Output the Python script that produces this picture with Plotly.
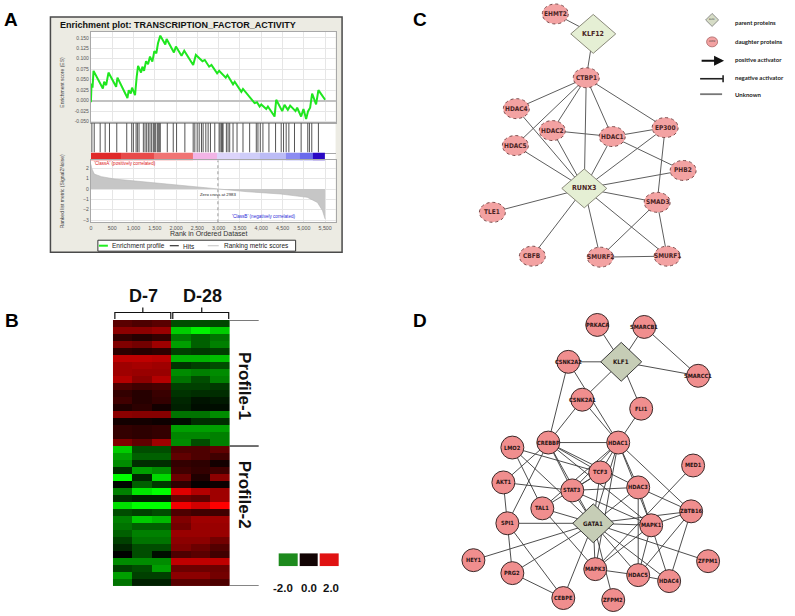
import plotly.graph_objects as go

W, H = 795, 616

# ---------------- Panel A data (GSEA enrichment plot) ----------------
es_rank = [0, 16, 39, 62, 281, 312, 359, 413, 593, 624, 827, 858, 889, 936, 967, 1037,
           1076, 1108, 1178, 1209, 1248, 1295, 1342, 1388, 1443, 1490, 1537, 1576, 1630,
           1747, 1778, 1950, 1997, 2129, 2192, 2402, 2465, 2621, 2675, 2777, 2831, 2964,
           3011, 3167, 3206, 3338, 3377, 3533, 3572, 3806, 3845, 3900, 3962, 4001, 4118,
           4157, 4313, 4352, 4493, 4547, 4625, 4680, 4805, 4844, 4937, 4992, 5054, 5101,
           5148, 5195, 5288, 5343, 5500]
es_score = [-0.004, 0.041, 0.031, 0.071, 0.029, 0.045, 0.037, 0.067, 0.033, 0.055, 0.013,
            0.006, 0.025, 0.017, 0.031, 0.013, 0.057, 0.083, 0.067, 0.081, 0.071, 0.094,
            0.087, 0.105, 0.093, 0.118, 0.113, 0.137, 0.155, 0.134, 0.147, 0.115, 0.129,
            0.107, 0.119, 0.085, 0.109, 0.094, 0.097, 0.081, 0.085, 0.065, 0.071, 0.055,
            0.061, 0.039, 0.045, 0.021, 0.028, -0.001, -0.006, -0.004, -0.014, -0.009,
            -0.020, -0.014, -0.038, 0.002, -0.025, -0.010, -0.022, -0.012, -0.025, -0.017,
            -0.038, -0.020, -0.044, -0.025, -0.017, 0.017, -0.009, 0.025, 0.002]
hit_rank = [23, 78, 218, 335, 437, 608, 842, 959, 998, 1061, 1092, 1131, 1232, 1271, 1310,
            1349, 1388, 1427, 1466, 1490, 1521, 1560, 1583, 1607, 1630, 1794, 1934, 2012,
            2207, 2402, 2441, 2496, 2543, 2597, 2636, 2699, 2753, 2808, 2909, 3011, 3034,
            3065, 3089, 3104, 3182, 3221, 3260, 3338, 3432, 3572, 3728, 3884, 3923, 3978,
            4040, 4181, 4337, 4469, 4524, 4586, 4649, 4781, 4937, 5093, 5132, 5187, 5343]
metric_rank = [0, 20, 80, 250, 560, 1340, 2120, 2900, 2983, 3680, 4460, 5080, 5320, 5440, 5500]
metric_value = [2.4, 2.0, 1.45, 1.2, 0.97, 0.65, 0.4, 0.06, 0.0, -0.26, -0.48, -0.8, -1.3, -2.1, -2.9]
zero_cross_rank = 2983
bar_edges = [0, 700, 1470, 2400, 2950, 3500, 3960, 4590, 4900, 5210, 5500]
bar_colors = ['#e02a2a', '#e84a4a', '#f07474', '#f2b4e6', '#dcd4fa', '#cfcdf9',
              '#bcbcf6', '#8c8cf2', '#6a6aec', '#2a08c4']
es_ticks = [-0.05, -0.025, 0.0, 0.025, 0.05, 0.075, 0.1, 0.125, 0.15]
es_tick_labels = ["-0.050", "-0.025", "0.000", "0.025", "0.050", "0.075", "0.100", "0.125", "0.150"]
rank_ticks = [0, 500, 1000, 1500, 2000, 2500, 3000, 3500, 4000, 4500, 5000, 5500]
rank_tick_labels = ["0", "500", "1,000", "1,500", "2,000", "2,500", "3,000", "3,500",
                    "4,000", "4,500", "5,000", "5,500"]
metric_ticks = [-3, -2, -1, 0, 1, 2]

# ---------------- Panel B data (heatmap) ----------------
day7_values = [
    [0.7, 0.6, 0.7], [1.1, 1.1, 1.2], [0.4, 0.3, 0.4], [1.0, 0.9, 1.25], [0.35, 0.3, 0.35],
    [1.5, 1.5, 1.45], [1.25, 1.3, 1.25], [1.25, 1.2, 1.2], [1.4, 1.1, 1.4], [0.6, 0.5, 0.55],
    [0.4, 0.3, 0.45], [0.5, 0.3, 0.4], [0.25, 0.35, 0.15], [1.1, 1.05, 1.05], [0.15, 0.15, 0.1],
    [0.4, 0.35, 0.4], [0.4, 0.35, 0.4], [1.0, 0.75, 1.25],
    [-1.6, -0.6, -0.6], [-1.25, -0.75, -0.75], [-1.1, -0.35, -0.35], [-0.35, -1.25, -1.1],
    [-2.0, -0.3, -1.7], [-0.05, -0.75, -0.45], [-1.0, -1.8, -2.0], [-0.35, -0.25, -0.25],
    [-1.75, -2.0, -2.0], [-0.6, -0.5, -0.6], [-1.0, -1.6, -1.45], [-0.9, -0.75, -0.75],
    [-0.75, -1.0, -1.0], [-0.5, -0.9, -0.9], [-0.3, -0.6, -0.6], [0.0, -0.6, -0.1],
    [-1.1, -1.1, -1.1], [-0.5, -0.6, -1.25], [-1.25, -0.5, -0.5], [-0.9, -0.25, -0.25]]
day28_values = [
    [-0.6, -0.6, -0.55], [-1.6, -1.9, -1.6], [-0.95, -0.75, -0.9], [-1.25, -0.75, -1.0],
    [-0.5, -0.45, -0.5], [-1.4, -1.4, -1.5], [-0.4, -0.5, -0.6], [-1.1, -1.0, -1.1],
    [-0.9, -0.6, -1.0], [-0.5, -0.5, -0.45], [-0.4, -0.35, -0.35], [-0.3, -0.15, -0.2],
    [-0.25, -0.1, -0.1], [-0.9, -0.9, -1.1], [-0.1, -0.35, -0.35], [-1.25, -1.25, -1.25],
    [-1.05, -1.05, -1.0], [-1.1, -0.6, -1.0],
    [0.6, 0.6, 0.75], [0.75, 0.6, 0.5], [0.4, 0.35, 0.15], [0.5, 0.4, 0.5], [0.85, 0.25, 1.1],
    [0.35, 0.05, 0.1], [1.75, 1.4, 1.25], [0.85, 0.75, 1.25], [1.9, 1.65, 2.0], [0.6, 0.5, 0.5],
    [1.0, 1.25, 1.25], [0.9, 1.2, 1.2], [1.2, 1.2, 1.2], [1.1, 1.1, 0.9], [1.0, 0.85, 0.65],
    [0.6, 0.7, 0.5], [1.5, 1.5, 1.5], [0.85, 0.85, 0.85], [1.1, 1.1, 0.9], [0.7, 0.7, 0.6]]
profile1_rows = 18
scale_ticks = [-2.0, 0.0, 2.0]
scale_labels = ["-2.0", "0.0", "2.0"]
scale_colors = ['#1d8a1d', '#120404', '#e01212']

# ---------------- Panel C data (network) ----------------
c_names = ["EHMT2", "KLF12", "CTBP1", "HDAC4", "HDAC2", "HDAC1", "EP300", "HDAC5", "PHB2",
           "RUNX3", "SMAD3", "TLE1", "CBFB", "SMURF2", "SMURF1"]
c_x = [555, 593, 586, 516, 552, 612, 665, 515, 683, 584, 657, 492, 532, 600, 667]
c_y = [14, 34, 78, 109, 131, 137, 128, 146, 171, 189, 203, 213, 257, 258, 257]
c_parents = ["KLF12", "RUNX3"]
c_edges = [("EHMT2", "KLF12"), ("KLF12", "CTBP1"), ("CTBP1", "HDAC4"), ("CTBP1", "HDAC2"),
           ("CTBP1", "HDAC1"), ("CTBP1", "EP300"), ("CTBP1", "HDAC5"), ("CTBP1", "RUNX3"),
           ("HDAC4", "RUNX3"), ("HDAC2", "HDAC1"), ("HDAC2", "RUNX3"), ("HDAC1", "EP300"),
           ("HDAC1", "PHB2"), ("HDAC1", "RUNX3"), ("HDAC5", "RUNX3"), ("EP300", "RUNX3"),
           ("EP300", "SMAD3"), ("PHB2", "RUNX3"), ("RUNX3", "SMAD3"), ("RUNX3", "TLE1"),
           ("RUNX3", "CBFB"), ("RUNX3", "SMURF2"), ("RUNX3", "SMURF1"), ("SMAD3", "SMURF2"),
           ("SMAD3", "SMURF1"), ("SMURF2", "SMURF1")]
legend_items = ["parent proteins", "daughter proteins", "positive activator",
                "negative activator", "Unknown"]

# ---------------- Panel D data (network) ----------------
d_names = ["PRKACA", "SMARCB1", "KLF1", "CSNK2A2", "SMARCC1", "CSNK2A1", "FLI1", "CREBBP",
           "HDAC1", "LMO2", "MED1", "TCF3", "AKT1", "STAT3", "HDAC3", "TAL1", "ZBTB16", "SPI1",
           "GATA1", "MAPK1", "HEY1", "ZFPM1", "PRG2", "MAPK3", "HDAC5", "HDAC4", "CEBPE", "ZFPM2"]
d_x = [597, 644, 621, 568, 698, 582, 641, 548, 618, 512, 693, 600, 503, 572, 638, 542, 691,
       507, 593, 651, 473, 708, 512, 595, 638, 669, 563, 613]
d_y = [326, 328, 363, 363, 377, 401, 410, 444, 444, 449, 467, 474, 484, 492, 489, 510, 513,
       525, 525, 527, 562, 563, 575, 571, 577, 583, 600, 602]
d_parents = ["KLF1", "GATA1"]
d_edges = [("PRKACA", "KLF1"), ("SMARCB1", "KLF1"), ("SMARCB1", "SMARCC1"), ("KLF1", "SMARCC1"),
           ("CSNK2A2", "KLF1"), ("KLF1", "CSNK2A1"), ("KLF1", "FLI1"), ("CSNK2A2", "CREBBP"),
           ("CSNK2A2", "HDAC1"), ("CSNK2A1", "CREBBP"), ("CSNK2A1", "HDAC1"), ("FLI1", "HDAC1"),
           ("CREBBP", "HDAC1"), ("CREBBP", "AKT1"), ("CREBBP", "SPI1"), ("CREBBP", "STAT3"),
           ("CREBBP", "TCF3"), ("CREBBP", "HDAC3"), ("CREBBP", "GATA1"), ("CREBBP", "MAPK1"),
           ("LMO2", "TAL1"), ("LMO2", "TCF3"), ("LMO2", "GATA1"), ("HDAC1", "STAT3"),
           ("HDAC1", "GATA1"), ("HDAC1", "HDAC3"), ("HDAC1", "MAPK1"), ("HDAC1", "ZBTB16"),
           ("HDAC1", "TCF3"), ("HDAC1", "TAL1"), ("HDAC1", "MAPK3"), ("TCF3", "GATA1"),
           ("TCF3", "TAL1"), ("AKT1", "STAT3"), ("AKT1", "SPI1"), ("STAT3", "HDAC3"),
           ("STAT3", "GATA1"), ("STAT3", "MAPK1"), ("STAT3", "TCF3"), ("HDAC3", "GATA1"),
           ("MED1", "MAPK3"), ("HDAC3", "MAPK1"), ("HDAC3", "HDAC5"), ("HDAC3", "ZBTB16"),
           ("TAL1", "MAPK3"), ("TAL1", "GATA1"), ("SPI1", "GATA1"), ("SPI1", "PRG2"),
           ("SPI1", "CEBPE"), ("GATA1", "MAPK1"), ("GATA1", "HEY1"), ("GATA1", "PRG2"),
           ("GATA1", "CEBPE"), ("GATA1", "MAPK3"), ("GATA1", "HDAC5"), ("GATA1", "HDAC4"),
           ("GATA1", "ZFPM1"), ("GATA1", "ZFPM2"), ("GATA1", "ZBTB16"), ("MAPK1", "ZBTB16"),
           ("MAPK1", "HDAC4"), ("MAPK1", "MAPK3"), ("MAPK1", "HDAC5"), ("ZBTB16", "HDAC5"),
           ("ZBTB16", "HDAC4"), ("PRG2", "CEBPE"), ("MAPK3", "HDAC5"), ("HDAC5", "HDAC4")]


# ---------------- helpers ----------------
def fx(x):
    return x / W


def fy(y):
    return 1 - y / H


ARIAL = "Liberation Sans, Arial, sans-serif"
NARROW = "Liberation Sans Narrow, DejaVu Sans Condensed, Arial Narrow, sans-serif"

fig = go.Figure()
shapes = []
ann = []

# ---------------- Panel A ----------------
XL, XR = 90, 335
x_range = [0, 5746]
fig.add_trace(go.Scatter(x=es_rank, y=es_score, mode="lines",
                         line=dict(color="#1fe61f", width=2), xaxis="x", yaxis="y",
                         hoverinfo="skip"))
hx, hy = [], []
for r in hit_rank:
    hx += [r, r, None]
    hy += [0, 1, None]
fig.add_trace(go.Scatter(x=hx, y=hy, mode="lines", line=dict(color="#555555", width=1),
                         xaxis="x2", yaxis="y2", hoverinfo="skip"))
nb = len(bar_colors)
fig.add_trace(go.Heatmap(x=bar_edges, y=[0], z=[list(range(nb))],
                         colorscale=[[i / (nb - 1), c] for i, c in enumerate(bar_colors)],
                         zmin=0, zmax=nb - 1, showscale=False, xaxis="x3", yaxis="y3",
                         hoverinfo="skip"))
fig.add_trace(go.Scatter(x=metric_rank, y=metric_value, mode="lines", fill="tozeroy",
                         fillcolor="#c6c6c6", line=dict(color="#b5b5b5", width=0.6),
                         xaxis="x4", yaxis="y4", hoverinfo="skip"))

# frame + white plotting area
shapes.append(dict(type="rect", xref="paper", yref="paper", x0=fx(49.5), x1=fx(341.5),
                   y0=fy(253), y1=fy(17), fillcolor="#ecebe3",
                   line=dict(color="#4a4a4a", width=1.5), layer="below"))
shapes.append(dict(type="rect", xref="paper", yref="paper", x0=fx(XL), x1=fx(XR),
                   y0=fy(223), y1=fy(32), fillcolor="white", line=dict(width=0),
                   layer="below"))
shapes.append(dict(type="rect", xref="paper", yref="paper", x0=fx(97), x1=fx(295),
                   y0=fy(252), y1=fy(241), fillcolor="white",
                   line=dict(color="#333333", width=1), layer="below"))
shapes.append(dict(type="line", xref="x4", yref="y4 domain", x0=zero_cross_rank,
                   x1=zero_cross_rank, y0=0, y1=1,
                   line=dict(color="#9a9a9a", width=1, dash="dot")))
# legend samples (pixel canvas)
for (x0, x1, col, w) in [(98, 107, "#22ee22", 2), (169, 178, "#333333", 1.2),
                         (207, 218, "#cccccc", 1.2)]:
    shapes.append(dict(type="line", xref="x7", yref="y7", x0=x0, x1=x1, y0=246.5, y1=246.5,
                       line=dict(color=col, width=w)))
for (tx, t) in [(109, "Enrichment profile"), (180, "Hits"), (221, "Ranking metric scores")]:
    ann.append(dict(x=tx, y=246.8, xref="x7", yref="y7", text=t, showarrow=False,
                    xanchor="left", yanchor="middle",
                    font=dict(family=ARIAL, size=6.5, color="#222222")))

ann.append(dict(x=57, y=25, xref="x7", yref="y7",
                text="<b>Enrichment plot: TRANSCRIPTION_FACTOR_ACTIVITY</b>",
                showarrow=False, xanchor="left", yanchor="middle",
                font=dict(family=ARIAL, size=9, color="#111111")))
ann.append(dict(x=61, y=82, xref="x7", yref="y7", text="Enrichment score (ES)", textangle=-90,
                showarrow=False, font=dict(family=ARIAL, size=5, color="#444444")))
ann.append(dict(x=61, y=192, xref="x7", yref="y7", text="Ranked list metric (Signal2Noise)",
                textangle=-90, showarrow=False,
                font=dict(family=ARIAL, size=5, color="#444444")))
ann.append(dict(x=208, y=234.5, xref="x7", yref="y7", text="Rank in Ordered Dataset",
                showarrow=False, font=dict(family=ARIAL, size=7, color="#333333")))
ann.append(dict(x=91, y=164.5, xref="x7", yref="y7",
                text="'ClassA' (positively correlated)", showarrow=False, xanchor="left",
                font=dict(family=ARIAL, size=4.6, color="#e02020")))
ann.append(dict(x=297, y=217.5, xref="x7", yref="y7",
                text="'ClassB' (negatively correlated)", showarrow=False, xanchor="right",
                font=dict(family=ARIAL, size=4.6, color="#2a2ad8")))
ann.append(dict(x=zero_cross_rank, y=-0.12, xref="x4", yref="y4",
                text="Zero cross at %d" % zero_cross_rank, showarrow=False, yanchor="top",
                font=dict(family=ARIAL, size=4.3, color="#222222")))

# ---------------- Panel B ----------------
hm_z = [a + b for a, b in zip(day7_values, day28_values)]
nrows = len(hm_z)
fig.add_trace(go.Heatmap(z=hm_z, x=list(range(6)), y=list(range(nrows)),
                         colorscale=[[0, "#00ff00"], [0.5, "#000000"], [1, "#ff0000"]],
                         zmin=-2, zmax=2, showscale=False, xaxis="x5", yaxis="y5",
                         hoverinfo="skip"))
fig.add_trace(go.Heatmap(z=[list(range(len(scale_ticks)))], x=list(range(len(scale_ticks))),
                         y=[0], colorscale=[[i / 2, c] for i, c in enumerate(scale_colors)],
                         zmin=0, zmax=2, xgap=2, showscale=False, xaxis="x6", yaxis="y6",
                         hoverinfo="skip"))
for i, lab in enumerate(scale_labels):
    ann.append(dict(x=i + (-0.25 if scale_ticks[i] < 0 else (0.1 if scale_ticks[i] > 0 else 0)),
                    y=590, xref="x6", yref="y7", text="<b>%s</b>" % lab,
                    showarrow=False, font=dict(family=ARIAL, size=11.5, color="#111111")))
for yv in [-0.5, profile1_rows - 0.5, nrows - 0.5]:
    shapes.append(dict(type="line", xref="x7", yref="y5", x0=229, x1=258, y0=yv, y1=yv,
                       line=dict(color="#111111", width=1.2)))
for (xa, xb, xm, lab) in [(114, 170, 142, "D-7"), (172, 228, 201, "D-28")]:
    shapes.append(dict(type="path", xref="x7", yref="y7",
                       path="M %d,320 L %d,313.5 L %d,313.5 L %d,320 M %d,313.5 L %d,308.5"
                            % (xa, xa, xb, xb, xm, xm),
                       line=dict(color="#111111", width=1.2)))
    ann.append(dict(x=xm + 1, y=297, xref="x7", yref="y7", text="<b>%s</b>" % lab,
                    showarrow=False, font=dict(family=ARIAL, size=18, color="#111111")))
ann.append(dict(x=244, y=387, xref="x7", yref="y7", text="<b>Profile-1</b>", textangle=90,
                showarrow=False, font=dict(family=ARIAL, size=17, color="#111111")))
ann.append(dict(x=244, y=496, xref="x7", yref="y7", text="<b>Profile-2</b>", textangle=90,
                showarrow=False, font=dict(family=ARIAL, size=17, color="#111111")))

# ---------------- Panel letters ----------------
for (lx, ly, t) in [(10, 20, "A"), (11.5, 322, "B"), (420, 20, "C"), (420, 322, "D")]:
    ann.append(dict(x=lx, y=ly, xref="x7", yref="y7", text="<b>%s</b>" % t, showarrow=False,
                    font=dict(family=ARIAL, size=19, color="#000000")))


# ---------------- Networks ----------------
def add_network(names, xs, ys, edges, parents, style):
    pos = {n: (x, y) for n, x, y in zip(names, xs, ys)}
    ex, ey = [], []
    for a, b in edges:
        ex += [pos[a][0], pos[b][0], None]
        ey += [pos[a][1], pos[b][1], None]
    fig.add_trace(go.Scatter(x=ex, y=ey, mode="lines",
                             line=dict(color=style["edge"], width=style["ew"]),
                             xaxis="x7", yaxis="y7", hoverinfo="skip"))
    for n, x, y in zip(names, xs, ys):
        if n in parents:
            hw, hh = style["dw"] / 2, style["dh"] / 2
            shapes.append(dict(type="path", xref="x7", yref="y7",
                               path="M %.1f,%.1f L %.1f,%.1f L %.1f,%.1f L %.1f,%.1f Z"
                                    % (x - hw, y, x, y - hh, x + hw, y, x, y + hh),
                               fillcolor=style["dfill"],
                               line=dict(color=style["dline"], width=1)))
            fs = style["dfs"]
        else:
            hw, hh = style["nw"] / 2, style["nh"] / 2
            shapes.append(dict(type="circle", xref="x7", yref="y7", x0=x - hw, x1=x + hw,
                               y0=y - hh, y1=y + hh, fillcolor=style["nfill"],
                               line=dict(color=style["nline"], width=1, dash=style["ndash"])))
            fs = style["nfs"]
        ann.append(dict(x=x, y=y, xref="x7", yref="y7", text="<b>%s</b>" % n,
                        showarrow=False,
                        font=dict(family=NARROW, size=fs, color=style["tcol"])))


add_network(c_names, c_x, c_y, c_edges, c_parents,
            dict(edge="#5e5e5e", ew=1, dw=45, dh=39, dfill="#e5efd4", dline="#8a8a7a",
                 nw=26, nh=20, nfill="#f3a2a2", nline="#7a4a4a", ndash="dot",
                 nfs=6.5, dfs=7, tcol="#4a2424"))
add_network(d_names, d_x, d_y, d_edges, d_parents,
            dict(edge="#3a3a3a", ew=0.9, dw=41, dh=39, dfill="#c6cdb6", dline="#3a3a3a",
                 nw=23, nh=23, nfill="#f08e8e", nline="#3a2a2a", ndash="solid",
                 nfs=5.7, dfs=6.2, tcol="#2a1515"))

# Panel C legend
shapes.append(dict(type="path", xref="x7", yref="y7",
                   path="M 705.5,20 L 712,13.5 L 718.5,20 L 712,26.5 Z",
                   fillcolor="#d6dcc6", line=dict(color="#777777", width=0.8)))
ann.append(dict(x=712, y=20, xref="x7", yref="y7", text="KLF4", showarrow=False,
                font=dict(family=NARROW, size=2.5, color="#333333")))
shapes.append(dict(type="circle", xref="x7", yref="y7", x0=706.5, x1=717.5, y0=37, y1=47,
                   fillcolor="#f3a2a2", line=dict(color="#aa6666", width=0.8)))
ann.append(dict(x=712, y=42, xref="x7", yref="y7", text="ZFPM", showarrow=False,
                font=dict(family=NARROW, size=2.5, color="#333333")))
ann.append(dict(x=724, y=61, ax=700, ay=61, xref="x7", yref="y7", axref="x7", ayref="y7",
                text="", showarrow=True, arrowhead=2, arrowsize=1, arrowwidth=2,
                arrowcolor="#111111"))
shapes.append(dict(type="line", xref="x7", yref="y7", x0=700, x1=723, y0=79, y1=79,
                   line=dict(color="#222222", width=1.6)))
shapes.append(dict(type="line", xref="x7", yref="y7", x0=723, x1=723, y0=75.5, y1=82.5,
                   line=dict(color="#222222", width=1.6)))
shapes.append(dict(type="line", xref="x7", yref="y7", x0=700, x1=722, y0=94.5, y1=94.5,
                   line=dict(color="#777777", width=1.8)))
for t, ly in zip(legend_items, [23, 42, 60, 77.5, 95]):
    ann.append(dict(x=733, y=ly, xref="x7", yref="y7", text="<b>%s</b>" % t, showarrow=False,
                    xanchor="left", font=dict(family="Lato, Open Sans, sans-serif", size=6,
                                              color="#222222")))

# ---------------- Layout ----------------
dom_x = [fx(XL), fx(XR)]
common_hide = dict(showticklabels=False, showgrid=False, zeroline=False, ticks="",
                   fixedrange=True)
grid_col = "#e6e6e6"
line_col = "#a8a8a8"
fig.update_layout(
    width=W, height=H, autosize=False, margin=dict(l=0, r=0, t=0, b=0),
    paper_bgcolor="white", plot_bgcolor="rgba(0,0,0,0)", showlegend=False,
    xaxis=dict(domain=dom_x, range=x_range, anchor="y", tickvals=rank_ticks,
               showticklabels=False, showgrid=True, gridcolor=grid_col, zeroline=False,
               showline=True, linecolor=line_col, mirror=True, ticks=""),
    yaxis=dict(domain=[fy(123), fy(32)], range=[-0.0524, 0.164], anchor="x",
               tickvals=es_ticks, ticktext=es_tick_labels,
               tickfont=dict(family=ARIAL, size=5, color="#555555"), showgrid=True,
               gridcolor=grid_col, zeroline=True, zerolinecolor="#c2c2c2", zerolinewidth=2,
               showline=True, linecolor=line_col, mirror=True, ticks=""),
    xaxis2=dict(domain=dom_x, range=x_range, anchor="y2", showline=True, linecolor=line_col,
                mirror=True, **common_hide),
    yaxis2=dict(domain=[fy(153), fy(123)], range=[0, 1], anchor="x2", **common_hide),
    xaxis3=dict(domain=dom_x, range=x_range, anchor="y3", **common_hide),
    yaxis3=dict(domain=[fy(161), fy(153)], range=[-0.5, 0.5], anchor="x3", **common_hide),
    xaxis4=dict(domain=dom_x, range=x_range, anchor="y4", tickvals=rank_ticks,
                ticktext=rank_tick_labels,
                tickfont=dict(family=ARIAL, size=5.3, color="#555555"), showgrid=True,
                gridcolor=grid_col, zeroline=False, showline=True, linecolor=line_col,
                mirror=True, ticks=""),
    yaxis4=dict(domain=[fy(223), fy(161)], range=[-3.22, 2.77], anchor="x4",
                tickvals=metric_ticks, tickfont=dict(family=ARIAL, size=5, color="#555555"),
                showgrid=True, gridcolor=grid_col, zeroline=False, showline=True,
                linecolor=line_col, mirror=True, ticks=""),
    xaxis5=dict(domain=[fx(112), fx(229)], range=[-0.5, 5.5], anchor="y5", **common_hide),
    yaxis5=dict(domain=[fy(588), fy(321)], range=[nrows - 0.5, -0.5], anchor="x5",
                **common_hide),
    xaxis6=dict(domain=[fx(277), fx(339)], range=[-0.5, 2.5], anchor="y6", **common_hide),
    yaxis6=dict(domain=[fy(568), fy(555)], range=[-0.5, 0.5], anchor="x6", **common_hide),
    xaxis7=dict(domain=[0, 1], range=[0, W], anchor="y7", visible=False, fixedrange=True),
    yaxis7=dict(domain=[0, 1], range=[H, 0], anchor="x7", visible=False, fixedrange=True),
    shapes=shapes, annotations=ann,
)

fig.write_html("out.html", config={"displayModeBar": False},
               post_script="document.body.style.margin='0px';"
                           "document.body.style.overflow='hidden';")
